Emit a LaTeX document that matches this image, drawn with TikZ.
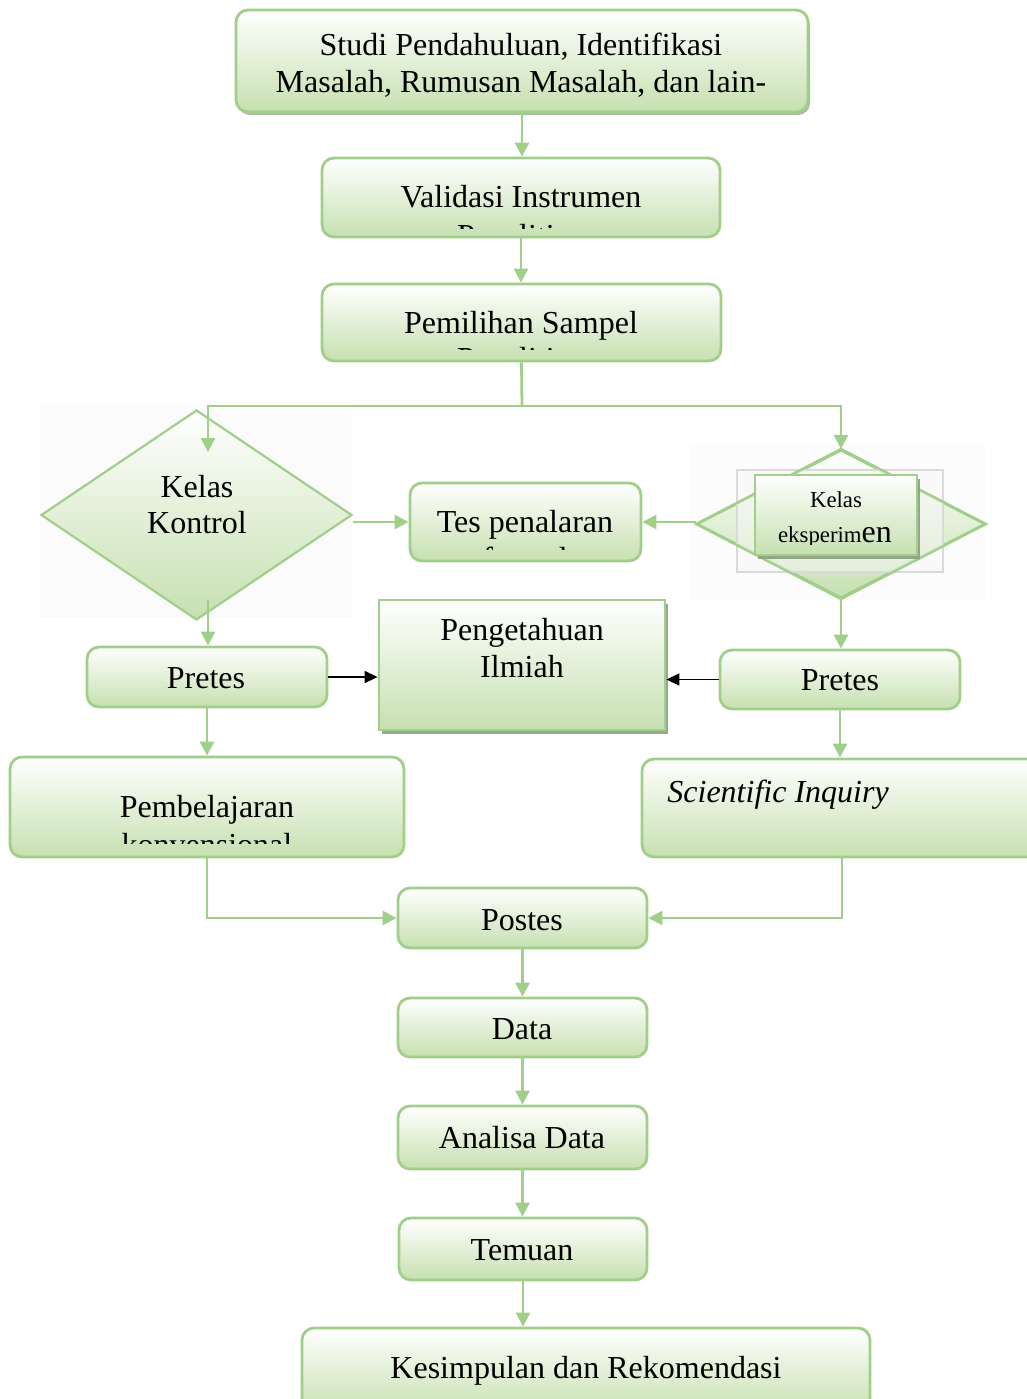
\documentclass[tikz,border=0pt]{standalone}
\usepackage{fontspec}
\setmainfont{Liberation Serif}
\usetikzlibrary{shapes.geometric,arrows.meta,shadows}
\definecolor{gline}{RGB}{160,207,137}
\definecolor{gfill}{RGB}{198,224,176}
\definecolor{gshadow}{RGB}{140,158,128}
\tikzset{
  txt/.style={inner sep=0pt, font=\fontsize{16}{18.5}\selectfont},
  smalltxt/.style={inner sep=0pt, font=\fontsize{11.4}{13}\selectfont},
  rbox/.style={draw=gline, line width=1.4pt, rounded corners=6pt, top color=white, bottom color=gfill, inner sep=0pt},
  sbox/.style={draw=gline, line width=1.4pt, top color=white, bottom color=gfill, inner sep=0pt},
  dia/.style={diamond, draw=gline, line width=1.1pt, top color=white, bottom color=gfill, inner sep=0pt},
  diaoutline/.style={draw=gline, line width=1.1pt},
  glink/.style={draw=gline, line width=1.4pt},
  garrow/.style={draw=gline, line width=1.4pt, -{Triangle[length=7pt,width=7pt]}},
  barrow/.style={draw=black, line width=0.8pt, -{Triangle[length=6.5pt,width=6pt]}},
  gshad/.style={drop shadow={shadow xshift=1.5pt, shadow yshift=-2pt, fill=gshadow, opacity=0.9}},
}
\begin{document}
\begin{tikzpicture}[x=0.5pt, y=-0.5pt]
\useasboundingbox (0,0) rectangle (1027,1399);

% faint picture backgrounds
\fill[black!1.5] (40,405) rectangle (352,618);
\fill[black!1] (690,445) rectangle (985,600);

% boxes
\node[rbox, drop shadow={shadow xshift=1pt, shadow yshift=-1.5pt, fill=gshadow, opacity=0.7}, minimum width=286pt, minimum height=51pt] (studi) at (522,61) {};
\node[rbox, minimum width=199pt, minimum height=39.5pt] (valid) at (521,197.5) {};
\node[rbox, minimum width=199.5pt, minimum height=38.5pt] (samp) at (521.5,322.5) {};
\node[dia, minimum width=155.5pt, minimum height=105pt] (kk) at (196.5,515) {};
\node[rbox, minimum width=115.5pt, minimum height=39pt] (tes) at (525.5,522) {};
\node[dia, minimum width=144pt, minimum height=74pt] (ekd) at (841,524) {};
\draw[black!15, fill=black!3, fill opacity=0.5, line width=1pt] (737,470) rectangle (943,572);
\draw[diaoutline] (ekd.north) -- (ekd.east) -- (ekd.south) -- (ekd.west) -- cycle;
\node[sbox, gshad, minimum width=81pt, minimum height=40pt] (ekb) at (836,515) {};
\node[rbox, minimum width=120pt, minimum height=30pt] (pretL) at (207,677) {};
\node[rbox, minimum width=120pt, minimum height=29.5pt] (pretR) at (840,679.5) {};
\node[sbox, gshad, minimum width=143pt, minimum height=65pt] (peng) at (522,665) {};
\node[rbox, minimum width=197pt, minimum height=50pt] (pemb) at (207,807) {};
\node[rbox, minimum width=200pt, minimum height=49pt] (sci) at (842,808) {};
\node[rbox, minimum width=124.5pt, minimum height=30pt] (post) at (522.5,918) {};
\node[rbox, minimum width=124.5pt, minimum height=29.5pt] (data) at (522.5,1027.5) {};
\node[rbox, minimum width=124.5pt, minimum height=31.5pt] (anal) at (522.5,1137.5) {};
\node[rbox, minimum width=124pt, minimum height=31pt] (tem) at (523,1249) {};
\node[rbox, minimum width=284pt, minimum height=43pt] (kes) at (586,1371) {};

% texts
\node[txt, anchor=base] (t1a) at (521,55) {Studi Pendahuluan, Identifikasi};
\node[txt, anchor=base] (t1b) at (521,92) {Masalah, Rumusan Masalah, dan lain-};
\node[txt, anchor=base] (t2) at (521,207) {Validasi Instrumen};
\begin{scope}
  \clip (322,158) rectangle (720,228);
  \node[txt, anchor=base] (t2b) at (521,246) {Penelitian};
\end{scope}
\node[txt, anchor=base] (t3) at (521,333) {Pemilihan Sampel};
\begin{scope}
  \clip (322,284) rectangle (721,349);
  \node[txt, anchor=base] (t3b) at (521,369) {Penelitian};
\end{scope}
\node[txt, anchor=base] (tkk1) at (197,497) {Kelas};
\node[txt, anchor=base] (tkk2) at (197,533) {Kontrol};
\node[txt, anchor=base] (ttes) at (525,532) {Tes penalaran};
\begin{scope}
  \clip (410,483) rectangle (641,549);
  \node[txt, anchor=base] (ttesb) at (525,569) {formal};
\end{scope}
\node[smalltxt, anchor=base] (tek1) at (836,507) {Kelas};
\begin{scope}
  \clip (755,475) rectangle (917,544);
  \node[smalltxt, anchor=base] (tek2) at (835,542) {eksperim{\fontsize{16}{18.5}\selectfont en}};
\end{scope}
\node[txt, anchor=base] (tpl) at (206,688) {Pretes};
\node[txt, anchor=base] (tpr) at (840,690) {Pretes};
\node[txt, anchor=base] (tpeng1) at (522,640) {Pengetahuan};
\node[txt, anchor=base] (tpeng2) at (522,677) {Ilmiah};
\node[txt, anchor=base] (tpemb) at (207,817) {Pembelajaran};
\begin{scope}
  \clip (10,757) rectangle (404,843);
  \node[txt, anchor=base] (tpembb) at (207,855) {konvensional};
\end{scope}
\node[txt, anchor=base west] (tsci) at (667,802) {\itshape Scientific Inquiry};
\node[txt, anchor=base] (tpost) at (522,930) {Postes};
\node[txt, anchor=base] (tdata) at (522,1039) {Data};
\node[txt, anchor=base] (tanal) at (522,1148) {Analisa Data};
\node[txt, anchor=base] (ttem) at (522,1260) {Temuan};
\node[txt, anchor=base] (tkes) at (586,1378) {Kesimpulan dan Rekomendasi};

% connectors
\coordinate (split) at (522,406);
\coordinate (kkin) at (208,452);
\coordinate (kkout) at (208,600);
\draw[garrow] (studi.south) -- (studi.south |- valid.north);
\draw[garrow] (valid.south) -- (valid.south |- samp.north);
\draw[glink] (samp.south) -- (split);
\draw[garrow] (split) -| (kkin);
\draw[garrow] (split) -| (ekd.north);
\draw[garrow] (tes.west -| kk.east) -- (tes.west);
\draw[garrow] (tes.east -| ekd.west) -- (tes.east);
\draw[garrow] (kkout) -- (kkout |- pretL.north);
\draw[garrow] (ekd.south) -- (ekd.south |- pretR.north);
\draw[barrow] (pretL.east) -- (pretL.east -| peng.west);
\draw[barrow] (pretR.west) -- (pretR.west -| peng.east);
\draw[garrow] (pretL.south) -- (pretL.south |- pemb.north);
\draw[garrow] (pretR.south) -- (pretR.south |- sci.north);
\draw[garrow] (pemb.south) |- (post.west);
\draw[garrow] (sci.south) |- (post.east);
\draw[garrow] (post.south) -- (data.north);
\draw[garrow] (data.south) -- (anal.north);
\draw[garrow] (anal.south) -- (anal.south |- tem.north);
\draw[garrow] (tem.south) -- (tem.south |- kes.north);
\end{tikzpicture}
\end{document}
